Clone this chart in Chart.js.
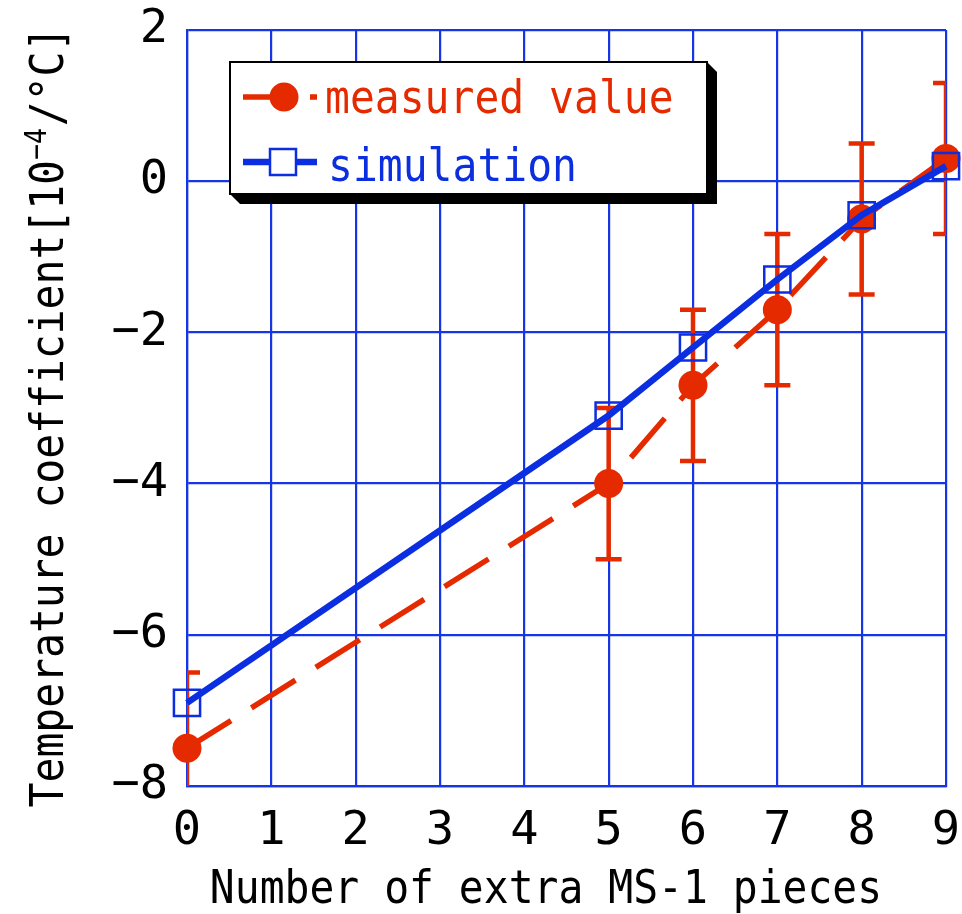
<!DOCTYPE html>
<html>
<head>
<meta charset="utf-8">
<script src="https://cdn.jsdelivr.net/npm/chart.js@4/dist/chart.umd.min.js"></script>
<style>
  html, body { margin: 0; padding: 0; background: #ffffff; }
  #wrap { width: 962px; height: 914px; position: relative; }
</style>
</head>
<body>
<div id="wrap"><canvas id="c" width="962" height="914"></canvas></div>
<script>
// Number of extra MS-1 pieces
const pieces = [0, 5, 6, 7, 8, 9];
// Measured temperature coefficient [10^-4/°C] and its error half-width
const measuredValue = [-7.5, -4.0, -2.7, -1.7, -0.5, 0.3];
const measuredError = [1.0, 1.0, 1.0, 1.0, 1.0, 1.0];
// Simulated temperature coefficient [10^-4/°C]
const simulationValue = [-6.9, -3.1, -2.2, -1.3, -0.45, 0.2];

const seriesNames = ['measured value', 'simulation'];
const xTitle = 'Number of extra MS-1 pieces';
const yTitleMain = 'Temperature coefficient[10';
const yTitleSup = '\u22124';
const yTitleTail = '/\u00b0C]';

const RED = '#e52a00';
const BLUE = '#0b2fe0';
const GRID = '#1535e6';
const FONT = "'DejaVu Sans Mono', monospace";

// Narrow text: monospace glyphs squeezed horizontally
function narrowText(ctx, text, x, y, size, color, align, sx) {
  ctx.save();
  ctx.font = size + 'px ' + FONT;
  ctx.fillStyle = color;
  ctx.textBaseline = 'alphabetic';
  ctx.textAlign = 'left';
  const w = ctx.measureText(text).width * sx;
  let x0 = x;
  if (align === 'center') x0 = x - w / 2;
  else if (align === 'right') x0 = x - w;
  ctx.translate(x0, y);
  ctx.scale(sx, 1);
  ctx.fillText(text, 0, 0);
  ctx.restore();
  return w;
}
function narrowWidth(ctx, text, size, sx) {
  ctx.save();
  ctx.font = size + 'px ' + FONT;
  const w = ctx.measureText(text).width * sx;
  ctx.restore();
  return w;
}

// Vertical error bars with caps, clipped to the plot area
const errorBars = {
  id: 'errorBars',
  beforeDatasetsDraw(chart) {
    const { ctx, chartArea, scales } = chart;
    const xs = scales.x, ys = scales.y;
    ctx.save();
    ctx.beginPath();
    ctx.rect(chartArea.left, chartArea.top, chartArea.right - chartArea.left, chartArea.bottom - chartArea.top);
    ctx.clip();
    ctx.strokeStyle = RED;
    ctx.lineWidth = 4.5;
    ctx.lineCap = 'butt';
    const cap = 13;
    pieces.forEach((p, i) => {
      const px = xs.getPixelForValue(p);
      const yTop = ys.getPixelForValue(measuredValue[i] + measuredError[i]);
      const yBot = ys.getPixelForValue(measuredValue[i] - measuredError[i]);
      ctx.beginPath();
      ctx.moveTo(px, yTop); ctx.lineTo(px, yBot);
      ctx.moveTo(px - cap, yTop); ctx.lineTo(px + cap, yTop);
      ctx.moveTo(px - cap, yBot); ctx.lineTo(px + cap, yBot);
      ctx.stroke();
    });
    ctx.restore();
  }
};

// Axis titles, drawn in a narrow gothic style
const axisTitles = {
  id: 'axisTitles',
  afterDraw(chart) {
    const { ctx } = chart;
    const size = 47, sx = 0.88;
    narrowText(ctx, xTitle, 546, 903, size, '#000', 'center', sx);

    // rotated y title
    const wMain = narrowWidth(ctx, yTitleMain, size, sx);
    const wSup = narrowWidth(ctx, yTitleSup, 30, sx);
    const wTail = narrowWidth(ctx, yTitleTail, size, sx);
    const total = wMain + wSup + 2 + wTail;
    ctx.save();
    ctx.translate(63, 417);
    ctx.rotate(-Math.PI / 2);
    let x = -total / 2;
    narrowText(ctx, yTitleMain, x, 0, size, '#000', 'left', sx);
    x += wMain;
    narrowText(ctx, yTitleSup, x, -17, 30, '#000', 'left', sx);
    x += wSup + 2;
    narrowText(ctx, yTitleTail, x, 0, size, '#000', 'left', sx);
    ctx.restore();
  }
};

// Framed legend with a drop shadow
const boxLegend = {
  id: 'boxLegend',
  afterDraw(chart) {
    const { ctx } = chart;
    const L = 230, T = 62, R = 707, B = 194, off = 10;
    ctx.save();
    // shadow
    ctx.fillStyle = '#000';
    ctx.beginPath();
    ctx.moveTo(R, T);
    ctx.lineTo(R + off, T + off);
    ctx.lineTo(R + off, B + off);
    ctx.lineTo(L + off, B + off);
    ctx.lineTo(L, B);
    ctx.closePath();
    ctx.fill();
    // box
    ctx.fillStyle = '#fff';
    ctx.fillRect(L, T, R - L, B - T);
    ctx.strokeStyle = '#000';
    ctx.lineWidth = 2;
    ctx.strokeRect(L, T, R - L, B - T);

    // measured value entry
    const y1 = 97;
    ctx.strokeStyle = RED;
    ctx.lineWidth = 5.5;
    ctx.setLineDash([55, 12]);
    ctx.beginPath();
    ctx.moveTo(243, y1); ctx.lineTo(317, y1);
    ctx.stroke();
    ctx.setLineDash([]);
    ctx.fillStyle = RED;
    ctx.beginPath();
    ctx.arc(284, y1, 14.5, 0, Math.PI * 2);
    ctx.fill();
    narrowText(ctx, seriesNames[0], 325, 113, 47, RED, 'left', 0.88);

    // simulation entry
    const y2 = 162;
    ctx.strokeStyle = BLUE;
    ctx.lineWidth = 6.5;
    ctx.beginPath();
    ctx.moveTo(243, y2); ctx.lineTo(317, y2);
    ctx.stroke();
    ctx.lineWidth = 2.5;
    ctx.fillStyle = '#fff';
    ctx.fillRect(270, y2 - 13, 26, 26);
    ctx.strokeRect(270, y2 - 13, 26, 26);
    narrowText(ctx, seriesNames[1], 328, 181, 47, BLUE, 'left', 0.88);
    ctx.restore();
  }
};

const measuredPts = pieces.map((p, i) => ({ x: p, y: measuredValue[i] }));
const simulationPts = pieces.map((p, i) => ({ x: p, y: simulationValue[i] }));

const noPadding = () => ({ left: 0, right: 0, top: 0, bottom: 0 });

new Chart(document.getElementById('c'), {
  type: 'line',
  data: {
    datasets: [
      {
        label: seriesNames[1],
        data: simulationPts,
        borderColor: BLUE,
        borderWidth: 6.5,
        pointStyle: 'rect',
        pointRadius: 18.5,
        pointBorderWidth: 2.5,
        pointBorderColor: BLUE,
        pointBackgroundColor: 'rgba(0,0,0,0)',
        tension: 0,
        clip: false,
        order: 0
      },
      {
        label: seriesNames[0],
        data: measuredPts,
        borderColor: RED,
        borderWidth: 5.5,
        borderDash: [52, 24],
        borderCapStyle: 'butt',
        pointStyle: 'circle',
        pointRadius: 14.5,
        pointBorderWidth: 0,
        pointBackgroundColor: RED,
        tension: 0,
        clip: false,
        order: 1
      }
    ]
  },
  options: {
    responsive: false,
    animation: false,
    devicePixelRatio: 1,
    layout: { autoPadding: false, padding: { left: 0, right: 16, top: 30, bottom: 0 } },
    plugins: {
      legend: { display: false },
      tooltip: { enabled: false },
      title: { display: false }
    },
    scales: {
      x: {
        type: 'linear',
        min: 0,
        max: 9,
        afterFit(scale) {
          scale.height = 128;
          scale.getPadding = noPadding;
        },
        grid: { color: GRID, lineWidth: 2.2, drawTicks: false, tickLength: 0 },
        border: { display: true, color: GRID, width: 2.2 },
        ticks: {
          stepSize: 1,
          padding: 18,
          color: '#000',
          font: { family: FONT, size: 47 }
        }
      },
      y: {
        type: 'linear',
        min: -8,
        max: 2,
        afterFit(scale) {
          scale.width = 187;
          scale.getPadding = noPadding;
        },
        grid: { color: GRID, lineWidth: 2.2, drawTicks: false, tickLength: 0 },
        border: { display: true, color: GRID, width: 2.2 },
        ticks: {
          stepSize: 2,
          padding: 19,
          color: '#000',
          font: { family: FONT, size: 47 },
          callback: (v) => String(v).replace('-', '\u2212')
        }
      }
    }
  },
  plugins: [errorBars, axisTitles, boxLegend]
});
</script>
</body>
</html>
